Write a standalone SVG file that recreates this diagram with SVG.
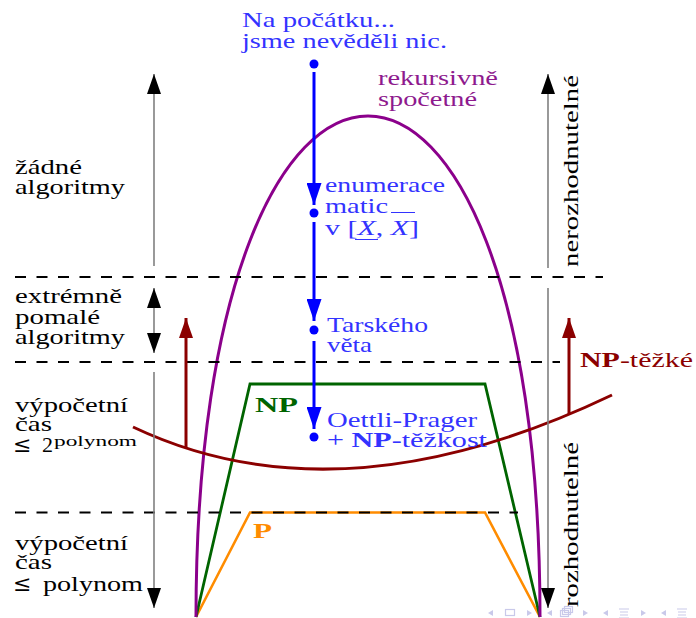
<svg xmlns="http://www.w3.org/2000/svg" width="696" height="618" viewBox="0 0 696 618" font-family="'Liberation Serif', 'DejaVu Serif', 'Times New Roman', serif">
<style>
text{font-family:'Liberation Serif','DejaVu Serif','Times New Roman',serif;font-size:21px;}
.blk{fill:#000}
.blu{fill:#3333ff}
.pur{fill:#8e1a8e}
.red{fill:#8b0000}
.b{font-weight:bold}
.le{font-family:'DejaVu Serif','Liberation Serif',serif;font-size:22px}
.dash{stroke:#000;stroke-width:2;stroke-dasharray:11 10.5;fill:none}
.gray{stroke:#808080;stroke-width:1.6;fill:none}
.nav{fill:#c9c9ea;stroke:none}
.navl{fill:none;stroke:#c9c9ea;stroke-width:1.2}
</style>
<defs>
<marker id="ag" markerUnits="userSpaceOnUse" viewBox="0 0 20 14" refX="20" refY="7" markerWidth="20" markerHeight="14" orient="auto-start-reverse"><path d="M0,0 L20,7 L0,14 z" fill="#000"/></marker>
<marker id="ar" markerUnits="userSpaceOnUse" viewBox="0 0 20 14" refX="20" refY="7" markerWidth="20" markerHeight="14" orient="auto"><path d="M0,0 L20,7 L0,14 z" fill="#8b0000"/></marker>
<marker id="ab" markerUnits="userSpaceOnUse" viewBox="0 0 22 15" refX="22" refY="7.5" markerWidth="22" markerHeight="15" orient="auto"><path d="M0,0 L22,7.5 L0,15 z" fill="#0000ff"/></marker>
</defs>

<g id="curves">
<path id="P" d="M196,617 L250,512.5 L485,512.5 L540,617" fill="none" stroke="#ff8c00" stroke-width="2.6"/>
<path id="NP" d="M196,617 L250,384 L485,384 L540,617" fill="none" stroke="#006400" stroke-width="2.8"/>
<path id="RE" d="M196,617 C196,-51 540,-51 540,617" fill="none" stroke="#8b008b" stroke-width="3"/>
<path id="NPhard" d="M133,427 Q340,525 612,395" fill="none" stroke="#8b0000" stroke-width="3"/>
</g>

<g id="dashes">
<line class="dash" x1="15" y1="277" x2="603" y2="277"/>
<line class="dash" x1="15" y1="362" x2="560" y2="362"/>
<line class="dash" x1="15" y1="512.5" x2="518" y2="512.5"/>
</g>

<g id="connectors">
<line class="gray" x1="154" y1="266" x2="154" y2="74" marker-end="url(#ag)"/>
<line class="gray" x1="154" y1="288" x2="154" y2="353" marker-start="url(#ag)" marker-end="url(#ag)"/>
<line class="gray" x1="154" y1="372" x2="154" y2="608" marker-end="url(#ag)"/>
<line class="gray" x1="548" y1="268" x2="548" y2="74" marker-end="url(#ag)"/>
<line class="gray" x1="548" y1="288" x2="548" y2="608" marker-end="url(#ag)"/>
<line x1="186" y1="447" x2="186" y2="318" stroke="#8b0000" stroke-width="3" marker-end="url(#ar)"/>
<line x1="569" y1="414" x2="569" y2="318" stroke="#8b0000" stroke-width="3" marker-end="url(#ar)"/>
<line x1="314" y1="72" x2="314" y2="205" stroke="#0000ff" stroke-width="3" marker-end="url(#ab)"/>
<line x1="314" y1="222" x2="314" y2="321" stroke="#0000ff" stroke-width="3" marker-end="url(#ab)"/>
<line x1="314" y1="341" x2="314" y2="429" stroke="#0000ff" stroke-width="3" marker-end="url(#ab)"/>
</g>

<g id="start">
<circle cx="314" cy="64" r="4.5" fill="#0000ff"/>
<text class="blu" x="242" y="27" textLength="153" lengthAdjust="spacingAndGlyphs">Na počátku...</text>
<text class="blu" x="242" y="48" textLength="205" lengthAdjust="spacingAndGlyphs">jsme nevěděli nic.</text>
</g>
<g id="enum">
<circle cx="314" cy="213" r="4.5" fill="#0000ff"/>
<text class="blu" x="325" y="192" textLength="120" lengthAdjust="spacingAndGlyphs">enumerace</text>
<text class="blu" x="325" y="213" textLength="63" lengthAdjust="spacingAndGlyphs">matic</text>
<text class="blu" x="325" y="235" textLength="94" lengthAdjust="spacingAndGlyphs">v [<tspan font-style="italic">X</tspan>, <tspan font-style="italic">X</tspan>]</text>
<line x1="355" y1="239.5" x2="378" y2="239.5" stroke="#3333ff" stroke-width="1"/>
<line x1="391" y1="212.5" x2="415" y2="212.5" stroke="#3333ff" stroke-width="1"/>
</g>
<g id="tarski">
<circle cx="314" cy="330" r="4.5" fill="#0000ff"/>
<text class="blu" x="327" y="332" textLength="101" lengthAdjust="spacingAndGlyphs">Tarského</text>
<text class="blu" x="327" y="352" textLength="45" lengthAdjust="spacingAndGlyphs">věta</text>
</g>
<g id="oettli">
<circle cx="314" cy="437" r="4.5" fill="#0000ff"/>
<text class="blu" x="327" y="427" textLength="150" lengthAdjust="spacingAndGlyphs">Oettli-Prager</text>
<text class="blu" x="327" y="447" textLength="160" lengthAdjust="spacingAndGlyphs">+ <tspan class="b">NP</tspan>-těžkost</text>
</g>

<g id="labels">
<text class="pur" x="378" y="85" textLength="120" lengthAdjust="spacingAndGlyphs">rekursivně</text>
<text class="pur" x="378" y="106" textLength="99" lengthAdjust="spacingAndGlyphs">spočetné</text>
<text class="b" fill="#006400" x="255" y="412" textLength="43" lengthAdjust="spacingAndGlyphs">NP</text>
<text class="b" fill="#ff8c00" x="253" y="538" textLength="19" lengthAdjust="spacingAndGlyphs">P</text>
<text class="red" x="580" y="367" textLength="113" lengthAdjust="spacingAndGlyphs"><tspan class="b">NP</tspan>-těžké</text>
<text class="blk" transform="translate(578,267) rotate(-90)" textLength="192" lengthAdjust="spacingAndGlyphs">nerozhodnutelné</text>
<text class="blk" transform="translate(578,607) rotate(-90)" textLength="165" lengthAdjust="spacingAndGlyphs">rozhodnutelné</text>
</g>

<g id="left-labels">
<text class="blk" x="15" y="174" textLength="67" lengthAdjust="spacingAndGlyphs">žádné</text>
<text class="blk" x="15" y="194" textLength="110" lengthAdjust="spacingAndGlyphs">algoritmy</text>
<text class="blk" x="15" y="303" textLength="107" lengthAdjust="spacingAndGlyphs">extrémně</text>
<text class="blk" x="15" y="324" textLength="85" lengthAdjust="spacingAndGlyphs">pomalé</text>
<text class="blk" x="15" y="344" textLength="110" lengthAdjust="spacingAndGlyphs">algoritmy</text>
<text class="blk" x="15" y="412" textLength="113" lengthAdjust="spacingAndGlyphs">výpočetní</text>
<text class="blk" x="15" y="431" textLength="37" lengthAdjust="spacingAndGlyphs">čas</text>
<text class="blk" y="452"><tspan class="le" x="13">≤</tspan><tspan x="42" font-size="22">2</tspan><tspan x="54" dy="-6" font-size="15" textLength="83" lengthAdjust="spacingAndGlyphs">polynom</tspan></text>
<text class="blk" x="15" y="550" textLength="113" lengthAdjust="spacingAndGlyphs">výpočetní</text>
<text class="blk" x="15" y="569" textLength="37" lengthAdjust="spacingAndGlyphs">čas</text>
<text class="blk" y="591"><tspan class="le" x="13">≤</tspan><tspan x="43" textLength="100" lengthAdjust="spacingAndGlyphs">polynom</tspan></text>
</g>

<g id="nav">
<path class="nav" d="M488,613 L493,610 L493,616 z"/>
<rect class="navl" x="505.5" y="609.5" width="9" height="6"/>
<path class="nav" d="M532,613 L527,610 L527,616 z"/>
<path class="nav" d="M547,613 L552,610 L552,616 z"/>
<rect class="navl" x="560.5" y="610.5" width="8" height="6"/>
<rect class="navl" x="562.5" y="608.5" width="8" height="6"/>
<rect class="navl" x="564.5" y="606.5" width="8" height="6"/>
<path class="nav" d="M588,613 L583,610 L583,616 z"/>
<path class="nav" d="M603,613 L608,610 L608,616 z"/>
<path class="navl" d="M619,609 h10 M620,612 h8 M620,615 h8 M619,618 h10"/>
<path class="nav" d="M646,613 L641,610 L641,616 z"/>
<path class="nav" d="M661,613 L666,610 L666,616 z"/>
<path class="navl" d="M677,609 h10 M678,612 h8 M678,615 h8 M677,618 h10"/>
</g>
</svg>
